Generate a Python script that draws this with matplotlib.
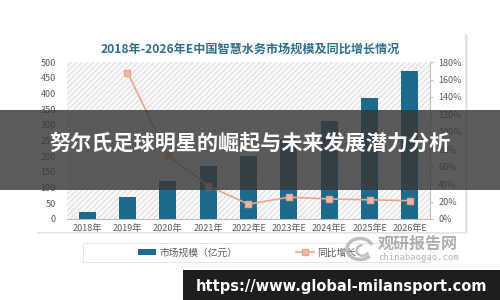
import matplotlib.pyplot as plt
import numpy as np
from matplotlib.patches import Rectangle, Arc

plt.rcParams['font.family'] = ['Noto Sans CJK SC', 'DejaVu Sans']

# data
years = ['2018年', '2019年', '2020年', '2021年', '2022年E', '2023年E', '2024年E', '2025年E', '2026年E']
market = [23, 69, 122, 169, 200, 255, 313, 386, 472]          # 市场规模（亿元）
growth = [np.nan, 168, 73, 38, 17, 25, 23, 22, 21]            # 同比增长 (%)

bar_color = '#1d6b8c'
line_color = '#e9a68c'
txt = '#595959'

fig = plt.figure(figsize=(5, 3), dpi=100)
fig.patch.set_facecolor('white')

# card with a soft shadow
for off, c in [(0.006, '#eeeeee'), (0.003, '#e4e4e4')]:
    fig.patches.append(Rectangle((0.07 + off, 0.227 - off), 0.86, 0.663, transform=fig.transFigure,
                                 facecolor=c, edgecolor='none', zorder=-2))
fig.patches.append(Rectangle((0.07, 0.227), 0.86, 0.663, transform=fig.transFigure,
                             facecolor='white', edgecolor='none', zorder=-1))

ax = fig.add_axes([0.134, 0.27, 0.726, 0.523])
ax.set_zorder(1)
ax.set_facecolor('white')
ax.add_patch(Rectangle((0, 0), 1, 1, transform=ax.transAxes, facecolor='#fbfbfb',
                       edgecolor='#e2e2e2', hatch='//////', lw=0, zorder=0))

x = np.arange(len(years))
ax.bar(x, market, width=0.42, color=bar_color, zorder=3, label='市场规模（亿元）')
ax.set_xlim(-0.5, len(years) - 0.5)
ax.set_ylim(0, 500)
ax.set_yticks(range(0, 501, 50))
ax.set_xticks(x)
ax.set_xticklabels(years)
ax.tick_params(axis='both', labelsize=6.5, colors=txt, length=0)
ax.tick_params(axis='y', pad=8)
for s in ['top', 'right', 'left']:
    ax.spines[s].set_visible(False)
ax.spines['bottom'].set_color('#bfbfbf')

ax2 = ax.twinx()
ax2.set_zorder(2)
ax2.plot(x, growth, color=line_color, lw=1.2, marker='s', ms=4,
         mfc='#f0b89f', mec=line_color, zorder=4, label='同比增长')
ax2.set_ylim(0, 180)
ax2.set_yticks(range(0, 181, 20))
ax2.set_yticklabels([f'{v}%' for v in range(0, 181, 20)])
ax2.tick_params(axis='y', labelsize=6.5, colors=txt, length=2, pad=4)
ax2.tick_params(axis='y', color='#bfbfbf')
for s in ['top', 'left', 'bottom']:
    ax2.spines[s].set_visible(False)
ax2.spines['right'].set_color('#bfbfbf')

fig.text(0.5, 0.837, '2018年-2026年E中国智慧水务市场规模及同比增长情况', ha='center', va='center',
         fontsize=8.7, fontweight='bold', color='#2f6d8c')

# legend box
fig.patches.append(Rectangle((0.166, 0.127), 0.694, 0.063, transform=fig.transFigure,
                             facecolor='white', edgecolor='#e0e0e0', lw=0.6, zorder=2))
h1, l1 = ax.get_legend_handles_labels()
h2, l2 = ax2.get_legend_handles_labels()
leg = fig.legend(h1 + h2, l1 + l2, loc='center', bbox_to_anchor=(0.494, 0.158), ncol=2, frameon=False,
                 fontsize=7, labelcolor=txt, columnspacing=6, handlelength=1.9, handleheight=0.5,
                 handletextpad=0.3)
leg.set_zorder(3)

# watermark
fig.patches.append(Arc((0.72, 0.17), 0.052, 0.07, theta1=30, theta2=310, transform=fig.transFigure,
                       color='#b5b5b5', lw=2.5, alpha=0.85, zorder=4))
fig.patches.append(Arc((0.725, 0.165), 0.024, 0.035, theta1=90, theta2=330, transform=fig.transFigure,
                       color='#b5b5b5', lw=1.8, alpha=0.85, zorder=4))
fig.text(0.836, 0.188, '观研报告网', ha='center', va='center', fontsize=11.5, fontweight='bold',
         color='#9a9a9a', alpha=0.8, zorder=4)
fig.text(0.836, 0.14, 'chinabaogao.com', ha='center', va='center', fontsize=6.4,
         color='#a0a0a0', alpha=0.8, family=['DejaVu Sans Mono'], zorder=4)

# grey banner across the middle
fig.patches.append(Rectangle((0, 0.367), 1, 0.267, transform=fig.transFigure,
                             facecolor='#383838', edgecolor='none', alpha=0.82, zorder=10))
fig.text(0.5, 0.523, '努尔氏足球明星的崛起与未来发展潜力分析', ha='center', va='center',
         fontsize=15.2, fontweight='bold', color='white', zorder=11)

# url strip at the bottom
fig.patches.append(Rectangle((0.366, 0), 0.634, 0.1, transform=fig.transFigure,
                             facecolor='#1e1e1e', edgecolor='none', zorder=10))
fig.text(0.683, 0.045, 'https://www.global-milansport.com', ha='center', va='center',
         fontsize=10.5, fontweight='bold', color='white', zorder=11, family=['DejaVu Sans'])

fig.savefig('out.png', dpi=100)
